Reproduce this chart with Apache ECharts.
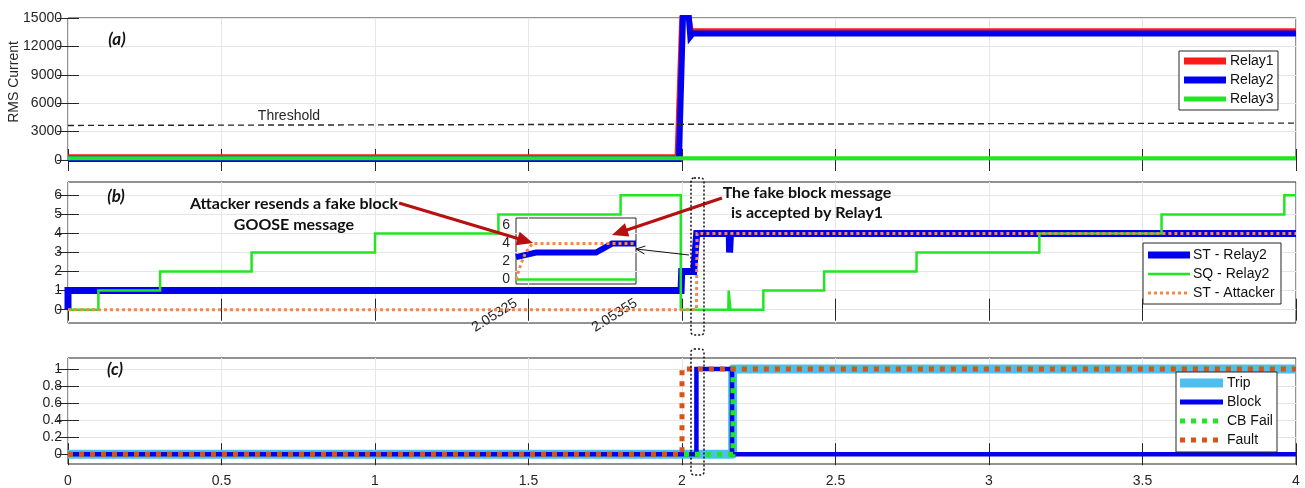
<!DOCTYPE html>
<html>
<head>
<meta charset="utf-8">
<script src="https://cdn.jsdelivr.net/npm/echarts@6/dist/echarts.min.js"></script>
<style>
  html, body { margin: 0; padding: 0; background: #fff; }
  #chart { width: 1305px; height: 488px; }
</style>
</head>
<body>
<div id="chart"></div>
<script>
// ---------- tick values ----------
const xTicks = [0, 0.5, 1, 1.5, 2, 2.5, 3, 3.5, 4];
const yTicksA = [0, 3000, 6000, 9000, 12000, 15000];
const yTicksB = [0, 1, 2, 3, 4, 5, 6];
const yTicksC = [0, 0.2, 0.4, 0.6, 0.8, 1];
const insetYTicks = [0, 2, 4, 6];
const insetXTicks = [2.05325, 2.05355];

// ---------- (a) RMS current, [time s, A] ----------
const relay1 = [[0, 350], [1.984, 350], [2.0, 16000], [2.018, 16000], [2.03, 13650], [4, 13650]];
const relay2 = [[0, 100], [1.99, 100], [2.004, 16000], [2.02, 16000], [2.027, 13050], [2.034, 13350], [4, 13350]];
const relay3 = [[0, 180], [4, 180]];
const threshold = [[0, 3650], [4, 3900]];

// ---------- (b) GOOSE state / sequence numbers ----------
const stRelay2 = [[0, 0], [0, 1], [1.997, 1], [1.999, 2], [2.038, 2], [2.043, 3], [2.048, 4],
  [2.154, 4], [2.155, 3], [2.157, 3], [2.158, 4], [4, 4]];
const sqRelay2 = [[0, 0], [0.099, 0], [0.099, 1], [0.3, 1], [0.3, 2], [0.598, 2], [0.598, 3],
  [1.0, 3], [1.0, 4], [1.402, 4], [1.402, 5], [1.8, 5], [1.8, 6], [1.996, 6], [1.996, 0],
  [2.151, 0], [2.152, 1], [2.157, 1], [2.158, 0], [2.265, 0], [2.265, 1], [2.463, 1], [2.463, 2],
  [2.764, 2], [2.764, 3], [3.164, 3], [3.164, 4], [3.562, 4], [3.562, 5], [3.962, 5], [3.962, 6], [4, 6]];
const stAttacker = [[0, 0], [2.047, 0], [2.049, 4], [4, 4]];

// zoomed view around the fake block message
const insetST = [[2.05325, 2.5], [2.0533, 3], [2.05345, 3], [2.05349, 4], [2.05355, 4]];
const insetSQ = [[2.05325, 0], [2.05355, 0]];
const insetAttacker = [[2.05325, 0], [2.053262, 1.7], [2.053274, 3.0], [2.053291, 4], [2.05355, 4]];

// ---------- (c) protection signals ----------
const trip = [[0, 0], [2.165, 0], [2.165, 1], [4, 1]];
const block = [[0, 0], [2.047, 0], [2.047, 1], [2.163, 1], [2.163, 0], [4, 0]];
const cbFail = [[0, 0], [2.166, 0], [2.166, 1], [4, 1]];
const fault = [[0, 0], [2.0, 0], [2.0, 1], [4, 1]];

// ---------- colours ----------
const RED = '#ff1a1a', BLUE = '#0000f0', GREEN = '#22e622', ORANGE = '#f4874b',
      FAULT = '#d95319', TRIP = '#4dbeee', INK = '#262626', DARKRED = '#b80f0f';

const FONT = '"Liberation Sans", Arial, sans-serif';
const axisFont = { fontFamily: FONT, fontSize: 14, color: INK };
const tick = { show: true, inside: true, length: 11, lineStyle: { color: INK, width: 1 } };
const gridLine = { show: true, lineStyle: { color: '#e6e6e6', width: 1 } };

const L = 68, W = 1228;
const grids = [
  { left: L, top: 18, width: W, height: 142 },
  { left: L, top: 182, width: W, height: 141 },
  { left: L, top: 358, width: W, height: 106 },
  { left: 516, top: 218, width: 120, height: 66 }
].map((g, i) => Object.assign(g, {
  show: true, borderColor: INK, borderWidth: 1, containLabel: false, outerBoundsMode: 'none',
  backgroundColor: i === 3 ? '#fff' : 'transparent'
}));

function xAxisPair(gridIndex, labels) {
  return [
    { type: 'value', gridIndex, position: 'bottom', min: 0, max: 4, interval: 0.5,
      axisLine: { show: false }, axisTick: tick, splitLine: gridLine,
      axisLabel: labels ? Object.assign({ margin: 10 }, axisFont) : { show: false } },
    { type: 'value', gridIndex, position: 'top', min: 0, max: 4, interval: 0.5,
      axisLine: { show: false }, axisTick: tick, splitLine: { show: false }, axisLabel: { show: false } }
  ];
}
function yAxisPair(gridIndex, min, max, ticks, fmt) {
  return [
    { type: 'value', gridIndex, position: 'left', min, max,
      axisLine: { show: false },
      axisTick: Object.assign({ customValues: ticks }, tick),
      splitLine: gridLine,
      axisLabel: Object.assign({ margin: 6, customValues: ticks, formatter: fmt }, axisFont) },
    { type: 'value', gridIndex, position: 'right', min, max,
      axisLine: { show: false },
      axisTick: Object.assign({ customValues: ticks }, tick),
      splitLine: { show: false }, axisLabel: { show: false } }
  ];
}

const xAxes = [...xAxisPair(0, false), ...xAxisPair(1, false), ...xAxisPair(2, true),
  { type: 'value', gridIndex: 3, min: insetXTicks[0], max: insetXTicks[1],
    axisLine: { show: false }, axisTick: { show: false }, splitLine: { show: false },
    axisLabel: Object.assign({ customValues: insetXTicks, rotate: 32, margin: 18,
      formatter: v => v.toFixed(5) }, axisFont) }];

const yAxes = [
  ...yAxisPair(0, 0, 15000, yTicksA, v => String(v)),
  ...yAxisPair(1, -0.7, 6.7, yTicksB, v => String(v)),
  ...yAxisPair(2, -0.115, 1.13, yTicksC, v => String(+v.toFixed(1))),
  { type: 'value', gridIndex: 3, min: -0.5, max: 6.85,
    axisLine: { show: false }, axisTick: { show: false }, splitLine: { show: false },
    axisLabel: Object.assign({ customValues: insetYTicks, margin: 6 }, axisFont) }
];

function line(name, data, xi, yi, color, width, opts) {
  return Object.assign({
    name, type: 'line', data, xAxisIndex: xi, yAxisIndex: yi,
    showSymbol: false, symbol: 'none', silent: true, animation: false, clip: true,
    lineStyle: { color, width, cap: 'butt', join: 'miter' }
  }, opts || {});
}
function dotted(name, data, xi, yi, color, width, dash, z) {
  const s = line(name, data, xi, yi, color, width, { z });
  s.lineStyle.type = dash;
  return s;
}

const series = [
  // (a)
  line('Relay1', relay1, 0, 0, RED, 5, { z: 2 }),
  line('Relay2', relay2, 0, 0, BLUE, 6, { z: 3 }),
  line('Relay3', relay3, 0, 0, GREEN, 4, { z: 4 }),
  dotted('Threshold', threshold, 0, 0, INK, 1.4, [6, 4], 5),
  // (b)
  line('ST - Relay2', stRelay2, 2, 2, BLUE, 7, { z: 2 }),
  line('SQ - Relay2', sqRelay2, 2, 2, GREEN, 2.5, { z: 3 }),
  dotted('ST - Attacker', stAttacker, 2, 2, ORANGE, 3, [3, 3], 4),
  // inset
  line('ST - Relay2 (zoom)', insetST, 6, 6, BLUE, 6, { z: 12 }),
  line('SQ - Relay2 (zoom)', insetSQ, 6, 6, GREEN, 2.5, { z: 13 }),
  dotted('ST - Attacker (zoom)', insetAttacker, 6, 6, ORANGE, 3, [3, 3], 14),
  // (c)
  line('Trip', trip, 4, 4, TRIP, 9, { z: 2 }),
  line('Block', block, 4, 4, BLUE, 4.5, { z: 3 }),
  dotted('CB Fail', cbFail, 4, 4, GREEN, 5, [5, 6], 4),
  dotted('Fault', fault, 4, 4, FAULT, 5, [5, 6], 5)
];
series[10].lineStyle.join = 'round';

// ---------- legends, labels and annotations ----------
const legendA = [
  { name: 'Relay1', color: RED, width: 7 },
  { name: 'Relay2', color: BLUE, width: 7 },
  { name: 'Relay3', color: GREEN, width: 5 }
];
const legendB = [
  { name: 'ST - Relay2', color: BLUE, width: 7 },
  { name: 'SQ - Relay2', color: GREEN, width: 2.5 },
  { name: 'ST - Attacker', color: ORANGE, width: 3, dash: [3, 3] }
];
const legendC = [
  { name: 'Trip', color: TRIP, width: 9 },
  { name: 'Block', color: BLUE, width: 5 },
  { name: 'CB Fail', color: GREEN, width: 5, dash: [5, 6] },
  { name: 'Fault', color: FAULT, width: 5, dash: [5, 6] }
];

function legendBox(box, items, firstY, rowH, sampleX, sampleW, textX) {
  const els = [{ type: 'rect', z: 50, shape: box,
    style: { fill: '#fff', stroke: INK, lineWidth: 1 } }];
  items.forEach((it, i) => {
    const cy = firstY + i * rowH;
    els.push({ type: 'line', z: 51,
      shape: { x1: sampleX, y1: cy, x2: sampleX + sampleW, y2: cy },
      style: { stroke: it.color, lineWidth: it.width, lineDash: it.dash || null, lineCap: 'butt' } });
    els.push({ type: 'text', z: 51,
      style: { x: textX, y: cy, text: it.name, font: '14px ' + FONT, fill: '#111',
        textAlign: 'left', textVerticalAlign: 'middle', verticalAlign: 'middle' } });
  });
  return els;
}

function txt(x, y, text, font, fill, align) {
  return { type: 'text', z: 60,
    style: { x, y, text, font, fill: fill || INK, textAlign: align || 'center',
      textVerticalAlign: 'middle', verticalAlign: 'middle' } };
}

function arrow(x1, y1, x2, y2, color, lw, hl, hw, filled) {
  const dx = x2 - x1, dy = y2 - y1, len = Math.hypot(dx, dy);
  const ux = dx / len, uy = dy / len, px = -uy, py = ux;
  const bx = x2 - ux * hl, by = y2 - uy * hl;
  const shaft = { type: 'line', z: 60,
    shape: { x1, y1, x2: filled ? bx + ux : x2, y2: filled ? by + uy : y2 },
    style: { stroke: color, lineWidth: lw } };
  const head = filled
    ? { type: 'polygon', z: 60, shape: { points: [[x2, y2], [bx + px * hw, by + py * hw], [bx - px * hw, by - py * hw]] },
        style: { fill: color } }
    : { type: 'polyline', z: 60, shape: { points: [[bx + px * hw, by + py * hw], [x2, y2], [bx - px * hw, by - py * hw]] },
        style: { stroke: color, lineWidth: lw, fill: null } };
  return [shaft, head];
}

const NOTE = 'bold 16px Lato, "Open Sans", sans-serif';
const PANEL = 'italic bold 17px Lato, "Open Sans", sans-serif';

// y-axis title of the current panel, rotated to read bottom-up
const yTitle = { type: 'text', z: 60, x: 14, y: 82, rotation: Math.PI / 2,
  style: { x: 0, y: 0, text: 'RMS Current', font: '14px ' + FONT, fill: INK,
    textAlign: 'center', textVerticalAlign: 'middle', verticalAlign: 'middle' } };

const graphics = [
  yTitle,
  ...legendBox({ x: 1179, y: 51, width: 99, height: 59 }, legendA, 61, 19, 1184, 42, 1230),
  ...legendBox({ x: 1143, y: 243, width: 138, height: 61 }, legendB, 255, 19, 1148, 42, 1193),
  ...legendBox({ x: 1176, y: 372, width: 101, height: 80 }, legendC, 383, 19, 1180, 43, 1227),
  txt(117, 40, '(a)', PANEL, '#111'),
  txt(116, 197, '(b)', PANEL, '#111'),
  txt(115, 370, '(c)', PANEL, '#111'),
  txt(289, 116, 'Threshold', '14px ' + FONT, INK),
  txt(294, 204, 'Attacker resends a fake block', NOTE, '#111'),
  txt(294, 225, 'GOOSE message', NOTE, '#111'),
  txt(807, 193, 'The fake block message', NOTE, '#111'),
  txt(807, 213, 'is accepted by Relay1', NOTE, '#111'),
  ...arrow(399, 203, 533, 243, DARKRED, 3, 16, 7, true),
  ...arrow(722, 198, 612, 235, DARKRED, 3, 16, 7, true),
  ...arrow(689, 255, 636, 249, '#111', 1, 9, 4, false),
  { type: 'rect', z: 60, shape: { x: 691, y: 178, width: 13, height: 157, r: 3 },
    style: { fill: null, stroke: '#111', lineWidth: 1.5, lineDash: [2, 2] } },
  { type: 'rect', z: 60, shape: { x: 691, y: 349, width: 13, height: 126, r: 3 },
    style: { fill: null, stroke: '#111', lineWidth: 1.5, lineDash: [2, 2] } }
];

const chart = echarts.init(document.getElementById('chart'), null, { renderer: 'canvas' });
chart.setOption({
  animation: false,
  backgroundColor: '#fff',
  grid: grids,
  xAxis: xAxes,
  yAxis: yAxes,
  series,
  graphic: graphics
});
</script>
</body>
</html>
